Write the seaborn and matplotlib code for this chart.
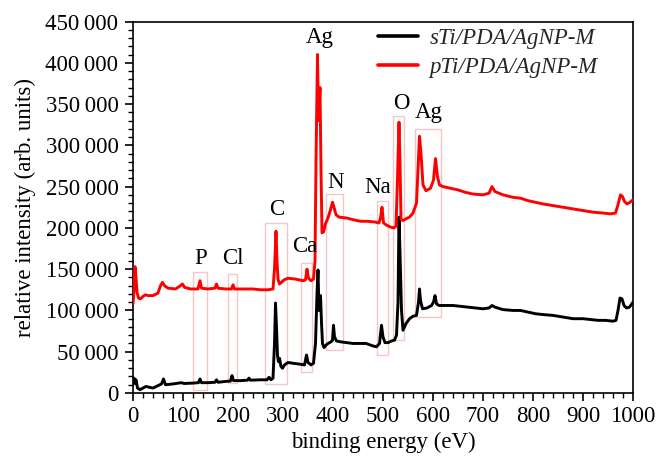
import matplotlib
matplotlib.use("Agg")
import matplotlib.pyplot as plt
from matplotlib.patches import Rectangle
from matplotlib.ticker import MultipleLocator, FuncFormatter
import seaborn as sns
import pandas as pd

# ---------------- data ----------------
s_energy = [0, 2, 4, 6, 9, 14, 20, 26, 32, 40, 50, 57, 61, 65, 80, 97, 102, 120, 131, 134, 137,
            150, 164, 167, 170, 185, 195, 198, 201, 215, 229, 232, 235, 255, 268, 272, 276, 280,
            283, 285, 287, 289, 291, 293, 296, 299, 303, 310, 320, 333, 343, 347, 350, 356, 361,
            365, 368, 370, 372, 375, 377, 379, 382, 386, 390, 396, 399, 401, 403, 407, 415, 427,
            440, 455, 466, 480, 487, 493, 497, 500, 504, 510, 517, 523, 527, 530, 532, 534, 537,
            540, 546, 553, 560, 567, 571, 573, 575, 579, 588, 597, 601, 604, 607, 612, 625, 640,
            655, 670, 685, 700, 712, 718, 724, 740, 760, 775, 790, 805, 820, 840, 860, 880, 900,
            915, 930, 945, 960, 966, 970, 974, 978, 982, 987, 993, 1000]
s_counts = [10, 18, 12, 16, 6, 4, 6, 8, 7, 6, 9, 11, 17, 10, 11, 12.5, 11.5, 12, 12.5, 17, 12.5,
            12.5, 13, 16, 13, 14, 14.5, 21, 15, 15, 15.5, 18, 15.5, 16, 16, 19, 16, 18,
            60, 109, 80, 45, 38, 42, 32, 30, 34, 37, 36, 35, 34, 46, 37, 34, 36,
            60, 120, 149, 100, 118, 85, 60, 55, 58, 60, 62, 64, 82, 68, 63, 62, 61,
            60, 60, 60, 57, 56, 60, 82, 68, 61, 61, 63, 64, 70, 110, 213, 170, 100,
            76, 84, 90, 93, 94, 110, 126, 112, 102, 103, 106, 110, 118, 108, 106, 106, 106,
            105, 104, 103, 102, 103, 106, 104, 101, 100, 100, 98, 96, 95, 94, 92, 90, 90,
            89, 88, 88, 87, 88, 100, 115, 114, 106, 103, 104, 110]

p_energy = [0, 2, 4, 6, 8, 11, 15, 20, 25, 30, 40, 50, 55, 59, 63, 70, 85, 95, 99, 103, 115, 130,
            134, 137, 150, 164, 167, 170, 185, 197, 200, 203, 220, 240, 255, 270, 280, 283, 286,
            288, 290, 293, 297, 302, 310, 325, 340, 345, 348, 351, 356, 361, 364, 366, 369, 371,
            374, 376, 378, 381, 385, 390, 395, 399, 402, 406, 412, 427, 440, 455, 470, 485, 492,
            495, 498, 501, 508, 515, 522, 526, 529, 532, 534, 536, 540, 546, 553, 560, 567, 570,
            573, 576, 580, 586, 595, 601, 605, 609, 613, 620, 635, 650, 665, 680, 700, 712, 718,
            724, 740, 760, 775, 790, 805, 820, 840, 860, 880, 900, 920, 940, 955, 965, 970, 975,
            979, 983, 988, 994, 1000]
p_counts = [108, 125, 153, 140, 122, 115, 114, 117, 119, 118, 118, 121, 130, 134, 130, 127, 126,
            130, 132, 128, 126, 126, 136, 127, 126, 127, 132, 127, 126, 126, 131, 126, 126, 126,
            125, 125, 126, 150, 196, 160, 138, 132, 134, 137, 139, 138, 136, 137, 150, 139, 136,
            138, 160, 280, 410, 330, 370, 270, 194, 195, 205, 212, 222, 231, 225, 216, 213, 212,
            210, 208, 208, 207, 206, 212, 225, 206, 203, 201, 200, 202, 260, 328, 280, 210, 209,
            211, 213, 218, 230, 270, 311, 290, 252, 245, 248, 258, 284, 262, 252, 250, 248, 246,
            243, 241, 240, 242, 250, 244, 240, 237, 236, 233, 231, 229, 227, 225, 223, 221, 219,
            218, 217, 218, 228, 240, 238, 232, 229, 231, 234]

series_names = ["sTi/PDA/AgNP-M", "pTi/PDA/AgNP-M"]
series_colors = ["#000000", "#ff0000"]

# element labels: text, energy (eV), intensity
peak_labels = ["P", "Cl", "C", "Ca", "Ag", "N", "Na", "O", "Ag"]
label_x = [136, 200, 288, 344, 374, 406, 490, 536, 592]
label_y = [163000, 163000, 222000, 177000, 431000, 255000, 249000, 351000, 340000]

# highlight boxes: x0, x1 (eV), y0, y1 (intensity)
box_x0 = [120, 190, 264, 336, 386, 488, 520, 564]
box_x1 = [148, 208, 308, 358, 420, 510, 542, 616]
box_y0 = [4000, 12000, 11000, 25000, 52000, 46000, 64000, 92000]
box_y1 = [146000, 144000, 206000, 158000, 241000, 233000, 335000, 320000]

# ---------------- plotting ----------------
sns.set_theme(style="ticks")
plt.rcParams["font.family"] = ["Liberation Serif", "DejaVu Serif"]

df_s = pd.DataFrame({"energy": s_energy, "intensity": [v * 1000 for v in s_counts]})
df_p = pd.DataFrame({"energy": p_energy, "intensity": [v * 1000 for v in p_counts]})

fig = plt.figure(figsize=(6.59, 4.57), dpi=100)
ax = fig.add_axes([133 / 659, 64 / 457, 500 / 659, 371.5 / 457])

for x0, x1, y0, y1 in zip(box_x0, box_x1, box_y0, box_y1):
    ax.add_patch(Rectangle((x0, y0), x1 - x0, y1 - y0, fill=False,
                           edgecolor="#f4c6c6", linewidth=1.0, zorder=1))

sns.lineplot(data=df_s, x="energy", y="intensity", ax=ax, color=series_colors[0],
             linewidth=2.1, label=series_names[0], sort=False, zorder=3)
sns.lineplot(data=df_p, x="energy", y="intensity", ax=ax, color=series_colors[1],
             linewidth=2.1, label=series_names[1], sort=False, zorder=3)

for t, x, y in zip(peak_labels, label_x, label_y):
    ax.text(x, y, t, fontsize=16.5, ha="center", va="center", color="black", zorder=4)

ax.set_xlim(0, 1000)
ax.set_ylim(0, 450000)
ax.xaxis.set_major_locator(MultipleLocator(100))
ax.xaxis.set_minor_locator(MultipleLocator(20))
ax.yaxis.set_major_locator(MultipleLocator(50000))
ax.yaxis.set_minor_locator(MultipleLocator(10000))
ax.yaxis.set_major_formatter(FuncFormatter(lambda v, p: f"{int(v):,}".replace(",", "\u2009")))

ax.tick_params(axis="both", which="major", direction="out", length=6, width=1.2,
               labelsize=16.5, color="black", labelcolor="black")
ax.tick_params(axis="y", which="major", pad=4.5)
ax.tick_params(axis="x", which="major", pad=3)
ax.tick_params(axis="both", which="minor", direction="out", length=3.5, width=1.0,
               color="black")
for sp in ax.spines.values():
    sp.set_visible(True)
    sp.set_linewidth(1.2)
    sp.set_color("black")

ax.set_xlabel("binding energy (eV)", fontsize=16.5, labelpad=3.5, color="black")
ax.set_ylabel("relative intensity (arb. units)", fontsize=16.5, labelpad=7, color="black")

leg = ax.legend(loc="upper left", bbox_to_anchor=(0.462, 1.02), frameon=False,
                prop={"style": "italic", "size": 16.5}, handlelength=1.75,
                handletextpad=0.5, labelspacing=0.35, borderaxespad=0.2)
for line in leg.get_lines():
    line.set_linewidth(2.6)

fig.savefig("out.png", dpi=100)
